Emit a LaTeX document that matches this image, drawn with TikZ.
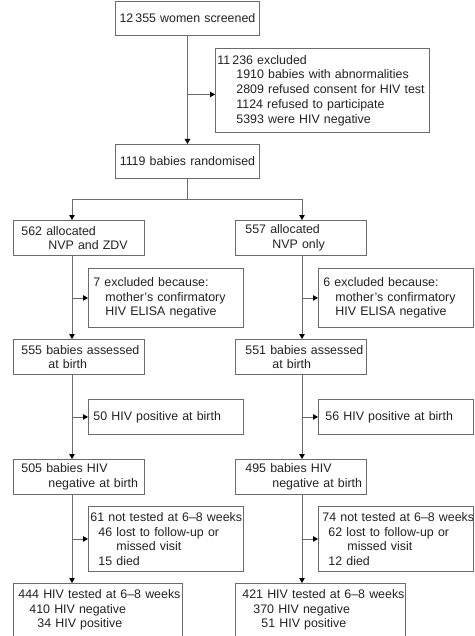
\documentclass[tikz,border=0pt]{standalone}
\usepackage{fontspec}
\setmainfont{Liberation Sans}
\usetikzlibrary{arrows.meta}
\definecolor{flowline}{HTML}{6B6B6B}
\definecolor{flowtext}{HTML}{222222}
\tikzset{
    box/.style={draw=flowline,line width=0.9pt,anchor=north west,inner xsep=0pt,inner ysep=0pt,
        align=left,text=flowtext,font=\fontsize{12.4}{14.7}\selectfont},
    cbox/.style={box,align=center},
    boxsize/.style 2 args={text width=#1,minimum height=#2},
    flow/.style={draw=flowline,line width=0.9pt,-{Triangle[length=5pt,width=5.5pt,color=black]}},
}

\begin{document}
\begin{tikzpicture}[x=1pt,y=-1pt]
    \path[fill=white,use as bounding box] (0,0) rectangle (474,636);
    \coordinate (colA) at (72,0);
    \coordinate (colB) at (302,0);
    \coordinate (split) at (0,199);

    \node[cbox,boxsize={144pt}{34pt}] (screened) at (115,1) {12\,355 women screened};
    \node[box,boxsize={214pt}{84pt}] (excluded) at (215,48) {\hspace*{2pt}11\,236 excluded\\
        \hspace*{21pt}1910 babies with abnormalities\\\hspace*{21pt}2809 refused consent for HIV test\\
        \hspace*{21pt}1124 refused to participate\\\hspace*{21pt}5393 were HIV negative};
    \node[cbox,boxsize={144pt}{34pt}] (random) at (115,144) {1119 babies randomised};

    \node[box,boxsize={131pt}{35pt}] (armA) at (13,220) {\hspace*{8pt}562 allocated\\\hspace*{35pt}NVP and ZDV};
    \node[box,boxsize={131pt}{35pt}] (armB) at (235,220) {\hspace*{10pt}557 allocated\\\hspace*{37pt}NVP only};
    \node[box,boxsize={155pt}{59pt}] (elisaA) at (88,268) {\hspace*{5pt}7 excluded because:\\
        \hspace*{17pt}mother's confirmatory\\\hspace*{17pt}HIV ELISA negative};
    \node[box,boxsize={155pt}{59pt}] (elisaB) at (318,268) {\hspace*{5pt}6 excluded because:\\
        \hspace*{17pt}mother's confirmatory\\\hspace*{17pt}HIV ELISA negative};
    \node[box,boxsize={131pt}{35pt}] (birthA) at (13,339) {\hspace*{8pt}555 babies assessed\\\hspace*{35pt}at birth};
    \node[box,boxsize={131pt}{35pt}] (birthB) at (235,339) {\hspace*{10pt}551 babies assessed\\\hspace*{37pt}at birth};
    \node[box,boxsize={155pt}{35pt}] (posA) at (88,399) {\hspace*{5pt}50 HIV positive at birth};
    \node[box,boxsize={155pt}{35pt}] (posB) at (318,399) {\hspace*{7pt}56 HIV positive at birth};
    \node[box,boxsize={131pt}{35pt}] (negA) at (13,459) {\hspace*{8pt}505 babies HIV\\\hspace*{35pt}negative at birth};
    \node[box,boxsize={131pt}{35pt}] (negB) at (235,459) {\hspace*{10pt}495 babies HIV\\\hspace*{37pt}negative at birth};
    \node[box,boxsize={155pt}{65pt}] (lostA) at (88,506) {\hspace*{2pt}\mbox{61 not tested at 6–8 weeks}\\
        \hspace*{10pt}46 lost to follow-up or\\\hspace*{28pt}missed visit\\\hspace*{10pt}15 died};
    \node[box,boxsize={155pt}{65pt}] (lostB) at (318,506) {\hspace*{4pt}\mbox{74 not tested at 6–8 weeks}\\
        \hspace*{10pt}62 lost to follow-up or\\\hspace*{29pt}missed visit\\\hspace*{10pt}12 died};
    \node[box,boxsize={169pt}{53pt}] (testA) at (13,583) {\hspace*{5pt}\mbox{444 HIV tested at 6–8 weeks}\\
        \hspace*{16pt}410 HIV negative\\\hspace*{24pt}34 HIV positive};
    \node[box,boxsize={170pt}{53pt}] (testB) at (235,583) {\hspace*{7pt}\mbox{421 HIV tested at 6–8 weeks}\\
        \hspace*{18pt}370 HIV negative\\\hspace*{26pt}51 HIV positive};

    \draw[flow] (screened) -- (random);
    \draw[flow] ([yshift=-4pt]excluded.west -| screened.south) -- ([yshift=-4pt]excluded.west);
    \draw[flow] (random.south) -- (random.south |- split) -| (armA.north -| colA);
    \draw[flow] (random.south |- split) -| (armB.north -| colB);
    \foreach \s in {A,B}{
        \draw[flow] (arm\s.south -| col\s) -- (birth\s.north -| col\s);
        \draw[flow] (birth\s.south -| col\s) -- (neg\s.north -| col\s);
        \draw[flow] (neg\s.south -| col\s) -- (test\s.north -| col\s);
        \draw[flow] (elisa\s.west -| col\s) -- (elisa\s.west);
        \draw[flow] (pos\s.west -| col\s) -- (pos\s.west);
        \draw[flow] (lost\s.west -| col\s) -- (lost\s.west);
    }
\end{tikzpicture}
\end{document}
